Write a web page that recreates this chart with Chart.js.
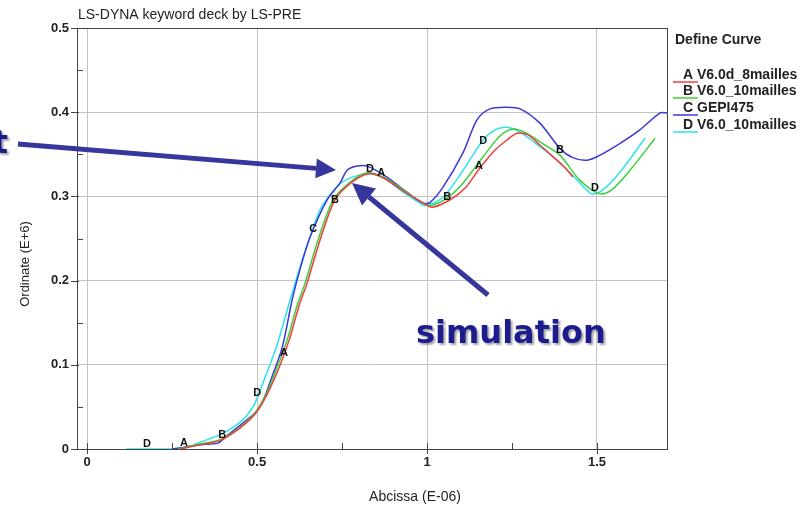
<!DOCTYPE html>
<html>
<head>
<meta charset="utf-8">
<script src="https://cdn.jsdelivr.net/npm/chart.js@4/dist/chart.umd.min.js"></script>
<style>
  html, body { margin: 0; padding: 0; background: #fff; }
  #c { display: block; }
</style>
</head>
<body>
<canvas id="c" width="805" height="508"></canvas>
<script>
// curve A - V6.0d_8mailles (red)
const xA = [0.274, 0.332, 0.391, 0.45, 0.497, 0.532, 0.565, 0.594, 0.624, 0.647, 0.685, 0.729, 0.779, 0.829, 0.876, 0.935, 0.994, 1.015, 1.068, 1.112, 1.156, 1.2, 1.235, 1.265, 1.297, 1.332, 1.371, 1.406, 1.429];
const yA = [0, 0.005, 0.01, 0.025, 0.043, 0.067, 0.097, 0.129, 0.171, 0.197, 0.248, 0.296, 0.317, 0.327, 0.321, 0.305, 0.291, 0.287, 0.296, 0.31, 0.334, 0.355, 0.367, 0.375, 0.373, 0.361, 0.347, 0.334, 0.323];
// curve B - V6.0_10mailles (green)
const xB = [0.268, 0.332, 0.391, 0.45, 0.494, 0.529, 0.559, 0.588, 0.618, 0.641, 0.679, 0.724, 0.774, 0.824, 0.871, 0.929, 0.988, 1.009, 1.059, 1.106, 1.165, 1.215, 1.253, 1.288, 1.347, 1.391, 1.45, 1.509, 1.544, 1.597, 1.671];
const yB = [0, 0.006, 0.011, 0.026, 0.043, 0.067, 0.097, 0.129, 0.171, 0.197, 0.248, 0.296, 0.317, 0.328, 0.323, 0.308, 0.292, 0.289, 0.298, 0.316, 0.347, 0.372, 0.38, 0.376, 0.361, 0.349, 0.319, 0.303, 0.308, 0.331, 0.369];
// curve C - GEPI475 (blue)
const xC = [0.25, 0.332, 0.385, 0.406, 0.459, 0.494, 0.518, 0.544, 0.574, 0.603, 0.626, 0.656, 0.706, 0.744, 0.765, 0.794, 0.824, 0.882, 0.941, 0.988, 1.009, 1.047, 1.106, 1.147, 1.185, 1.235, 1.274, 1.332, 1.391, 1.429, 1.471, 1.509, 1.568, 1.626, 1.685, 1.706];
const yC = [0, 0.005, 0.007, 0.014, 0.031, 0.043, 0.058, 0.086, 0.121, 0.177, 0.213, 0.252, 0.296, 0.316, 0.331, 0.336, 0.336, 0.323, 0.305, 0.292, 0.293, 0.311, 0.352, 0.391, 0.404, 0.406, 0.404, 0.387, 0.357, 0.346, 0.343, 0.349, 0.363, 0.379, 0.399, 0.399];
// curve D - V6.0_10mailles (cyan)
const xD = [0.115, 0.25, 0.294, 0.332, 0.391, 0.45, 0.488, 0.509, 0.529, 0.559, 0.597, 0.626, 0.656, 0.685, 0.715, 0.744, 0.774, 0.824, 0.871, 0.929, 0.979, 0.994, 1.047, 1.106, 1.165, 1.2, 1.235, 1.274, 1.332, 1.391, 1.45, 1.485, 1.518, 1.568, 1.641];
const yD = [0, 0, 0.002, 0.008, 0.017, 0.032, 0.05, 0.07, 0.091, 0.124, 0.177, 0.216, 0.252, 0.284, 0.302, 0.315, 0.322, 0.327, 0.322, 0.305, 0.292, 0.289, 0.299, 0.331, 0.367, 0.379, 0.382, 0.376, 0.359, 0.34, 0.316, 0.303, 0.308, 0.329, 0.369];

// curve identification letters along the curves
const markLetters = ['D', 'A', 'B', 'D', 'A', 'C', 'B', 'D', 'A', 'B', 'A', 'D', 'B', 'D'];
const markX = [0.176, 0.285, 0.397, 0.5, 0.579, 0.665, 0.729, 0.832, 0.865, 1.059, 1.153, 1.165, 1.391, 1.494];
const markY = [0.006, 0.007, 0.017, 0.066, 0.114, 0.261, 0.296, 0.333, 0.328, 0.299, 0.336, 0.366, 0.355, 0.31];

const legendLetters = ['A', 'B', 'C', 'D'];
const legendNames = ['V6.0d_8mailles', 'V6.0_10mailles', 'GEPI475', 'V6.0_10mailles'];
const curveColors = ['#f03c3c', '#3cd03c', '#3a3ad6', '#30e2ea'];

const xTickLabels = ['0', '0.5', '1', '1.5'];
const yTickLabels = ['0', '0.1', '0.2', '0.3', '0.4', '0.5'];

function pts(xs, ys) {
    return xs.map((x, i) => ({ x: x, y: ys[i] }));
}
function isMajor(v, step) {
    return Math.abs(v / step - Math.round(v / step)) < 1e-6;
}

const txtFont = '"Liberation Sans", Arial, sans-serif';

function arrow(c, x1, y1, x2, y2, head, half) {
    const ang = Math.atan2(y2 - y1, x2 - x1);
    const bx = x2 - head * Math.cos(ang), by = y2 - head * Math.sin(ang);
    c.beginPath(); c.moveTo(x1, y1); c.lineTo(bx, by); c.stroke();
    c.beginPath();
    c.moveTo(x2, y2);
    c.lineTo(bx - half * Math.sin(ang), by + half * Math.cos(ang));
    c.lineTo(bx + half * Math.sin(ang), by - half * Math.cos(ang));
    c.closePath(); c.fill();
}

const deco = {
    id: 'deco',
    afterDraw(chart) {
        const c = chart.ctx, a = chart.chartArea;
        const xs = chart.scales.x, ys = chart.scales.y;
        c.save();

        // frame
        c.strokeStyle = '#444';
        c.lineWidth = 1;
        c.strokeRect(Math.round(a.left) + 0.5, Math.round(a.top) + 0.5, Math.round(a.right - a.left), Math.round(a.bottom - a.top));

        // tick marks
        c.beginPath();
        xs.ticks.forEach(t => {
            const px = Math.round(xs.getPixelForValue(t.value)) + 0.5;
            if (isMajor(t.value, 0.5)) { c.moveTo(px, a.bottom - 6); c.lineTo(px, a.bottom + 5); }
            else { c.moveTo(px, a.bottom - 6); c.lineTo(px, a.bottom); }
        });
        ys.ticks.forEach(t => {
            const py = Math.round(ys.getPixelForValue(t.value)) + 0.5;
            if (isMajor(t.value, 0.1)) { c.moveTo(a.left - 6, py); c.lineTo(a.left + 2, py); }
            else { c.moveTo(a.left, py); c.lineTo(a.left + 6, py); }
        });
        c.stroke();

        // letters on curves
        c.fillStyle = '#111';
        c.font = 'bold 11px ' + txtFont;
        c.textAlign = 'center';
        c.textBaseline = 'middle';
        markLetters.forEach((l, i) => {
            c.fillText(l, xs.getPixelForValue(markX[i]), ys.getPixelForValue(markY[i]));
        });

        // title
        c.fillStyle = '#222';
        c.textAlign = 'left';
        c.font = '14px ' + txtFont;
        c.fillText('LS-DYNA keyword deck by LS-PRE', 78, 15);

        // axis titles
        c.font = '14px ' + txtFont;
        c.textAlign = 'center';
        c.fillText('Abcissa (E-06)', 415, 497);
        c.save();
        c.translate(25, 264);
        c.rotate(-Math.PI / 2);
        c.font = '13px ' + txtFont;
        c.fillText('Ordinate (E+6)', 0, 0);
        c.restore();

        // legend
        c.textAlign = 'left';
        c.fillStyle = '#222';
        c.font = 'bold 14px ' + txtFont;
        c.fillText('Define Curve', 675, 40);
        const rows = [75, 91, 108, 125];
        legendLetters.forEach((l, i) => {
            c.fillStyle = '#222';
            c.fillText(l + ' ' + legendNames[i], 683, rows[i]);
            c.strokeStyle = curveColors[i];
            c.lineWidth = 1.5;
            c.beginPath(); c.moveTo(673, rows[i] + 7); c.lineTo(698, rows[i] + 7); c.stroke();
        });

        // annotation arrows
        c.strokeStyle = '#36369c';
        c.fillStyle = '#36369c';
        c.lineWidth = 5;
        c.lineCap = 'butt';
        arrow(c, 18, 144, 336, 170, 20, 10);
        arrow(c, 488, 295, 352, 183, 22, 11);

        // annotation text
        c.font = 'bold 32px "DejaVu Sans", Verdana, sans-serif';
        c.textAlign = 'left';
        c.textBaseline = 'alphabetic';
        c.shadowColor = 'rgba(0,0,0,0.35)';
        c.shadowOffsetX = 2;
        c.shadowOffsetY = 2;
        c.shadowBlur = 2;
        c.fillStyle = '#1c1c8e';
        c.fillText('simulation', 416, 343);
        c.textAlign = 'right';
        c.fillText('t', 8, 153);

        c.restore();
    }
};

const datasets = [
    { data: pts(xA, yA), borderColor: curveColors[0] },
    { data: pts(xB, yB), borderColor: curveColors[1] },
    { data: pts(xC, yC), borderColor: curveColors[2] },
    { data: pts(xD, yD), borderColor: curveColors[3] }
].map(d => Object.assign(d, { showLine: true, pointRadius: 0, borderWidth: 1.5, tension: 0.3, fill: false }));

const ctx = document.getElementById('c').getContext('2d');
const chart = new Chart(ctx, {
    type: 'scatter',
    data: { datasets: datasets },
    options: {
        responsive: false,
        animation: false,
        devicePixelRatio: 1,
        layout: { padding: { left: 0, right: 138, top: 28, bottom: 0 } },
        plugins: { legend: { display: false }, tooltip: { enabled: false }, title: { display: false } },
        scales: {
            x: {
                type: 'linear',
                min: -0.03,
                max: 1.706,
                afterFit: s => { s.height = 59; },
                ticks: {
                    stepSize: 0.25,
                    includeBounds: false,
                    autoSkip: false,
                    maxRotation: 0,
                    padding: 6,
                    color: '#222',
                    font: { family: txtFont, size: 13, weight: 'bold' },
                    callback: v => {
                        const i = Math.round(v / 0.5);
                        return isMajor(v, 0.5) && xTickLabels[i] !== undefined ? xTickLabels[i] : '';
                    }
                },
                grid: {
                    drawTicks: false,
                    color: c => (c.tick && isMajor(c.tick.value, 0.5)) ? '#c4c4c4' : 'rgba(0,0,0,0)'
                },
                border: { display: true, color: '#444' }
            },
            y: {
                min: 0,
                max: 0.5,
                afterFit: s => { s.width = 77; },
                ticks: {
                    stepSize: 0.05,
                    autoSkip: false,
                    padding: 8,
                    color: '#222',
                    font: { family: txtFont, size: 13, weight: 'bold' },
                    callback: v => {
                        const i = Math.round(v / 0.1);
                        return isMajor(v, 0.1) && yTickLabels[i] !== undefined ? yTickLabels[i] : '';
                    }
                },
                grid: {
                    drawTicks: false,
                    color: c => (c.tick && isMajor(c.tick.value, 0.1)) ? '#c4c4c4' : 'rgba(0,0,0,0)'
                },
                border: { display: true, color: '#444' }
            }
        }
    },
    plugins: [deco]
});
</script>
</body>
</html>
